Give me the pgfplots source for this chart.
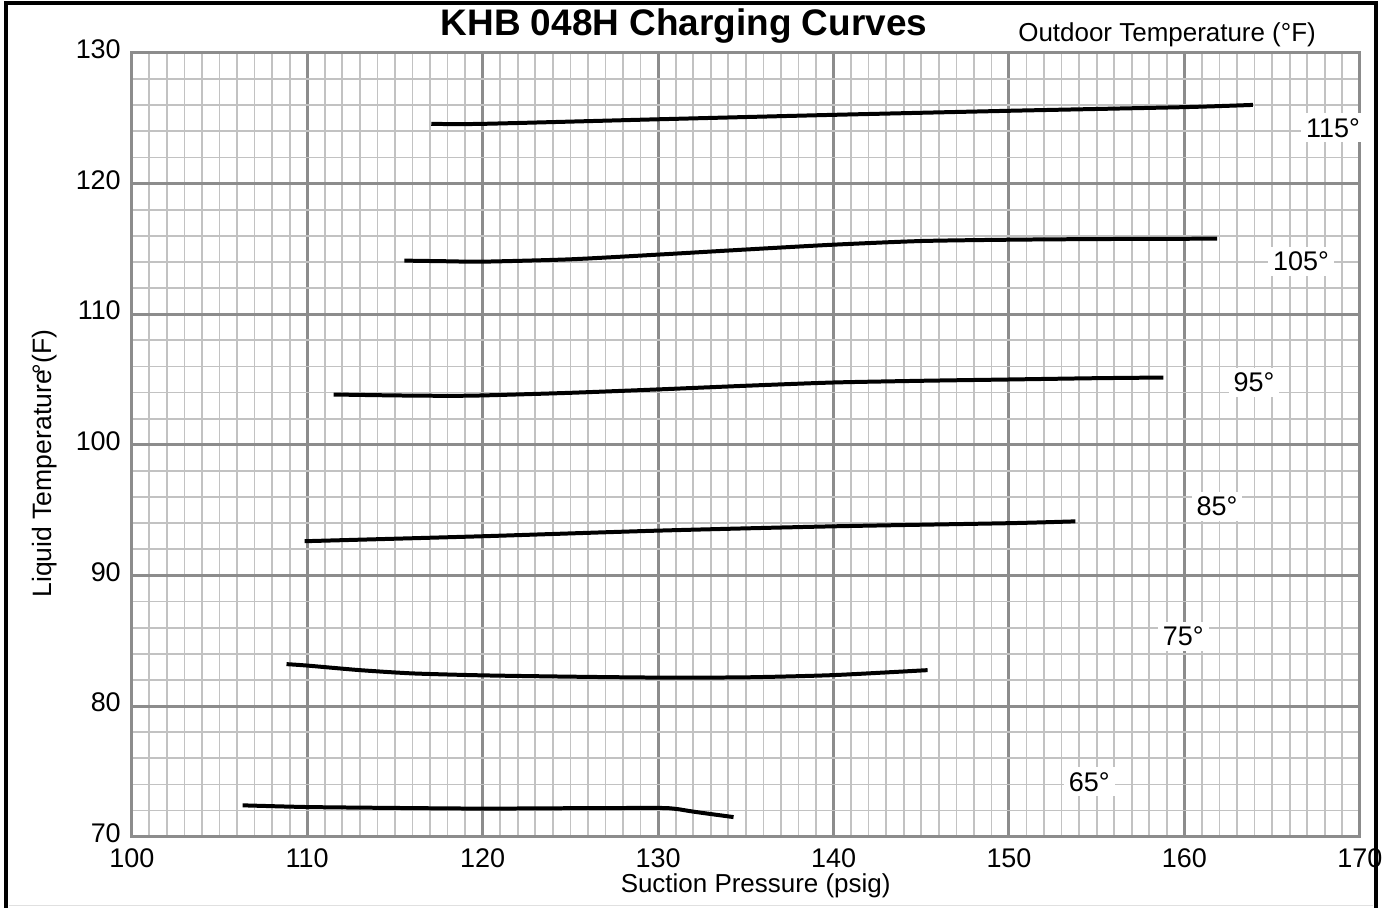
\documentclass[border=0pt]{standalone}
\usepackage{fontspec}
\setmainfont{Liberation Sans}
\usepackage{pgfplots}
\pgfplotsset{compat=1.18}
\definecolor{majgrid}{gray}{0.55}
\definecolor{mingrid}{gray}{0.76}
\begin{document}
\begin{tikzpicture}
\begin{axis}[
  width=615pt, height=392.5pt, scale only axis,
  xmin=100, xmax=170, ymin=70, ymax=130,
  xtick={100,110,...,170}, ytick={70,80,...,130},
  minor x tick num=9, minor y tick num=4,
  grid=both,
  major grid style={line width=1.5pt, color=majgrid},
  minor grid style={line width=0.85pt, color=mingrid},
  axis line style={line width=1.5pt, color=majgrid},
  tick style={draw=none},
  /pgf/number format/assume math mode=true,
  ticklabel style={font=\fontsize{13.5}{15}\selectfont, text=black},
  xticklabel style={yshift=-2.5pt},
  yticklabel style={xshift=-2pt, yshift=1.75pt},
  clip=false,
]
% frame and bounding box
\path (rel axis cs:-0.10732,-0.09045) rectangle (rel axis cs:1.02195,1.06752);
\draw[line width=1.8pt] (rel axis cs:-0.1024,-0.0905) -- (rel axis cs:-0.1024,1.0637) -- (rel axis cs:1.0130,1.0637) -- (rel axis cs:1.0130,-0.0905);
\draw[line width=0.8pt, color=black!12] (rel axis cs:-0.1000,-0.0879) -- (rel axis cs:1.0110,-0.0879);

% curves
\addplot[black, line width=2pt, smooth, tension=0.4] coordinates {
 (117.07,124.57) (120,124.57) (130,124.92) (140,125.26) (150,125.57) (160,125.85) (163.9,126.02)};
\addplot[black, line width=2pt, smooth, tension=0.4] coordinates {
 (115.54,114.10) (118,114.05) (120,114.02) (125,114.2) (130,114.56) (135,114.95) (140,115.32) (145,115.6) (150,115.70) (155,115.75) (161.87,115.78)};
\addplot[black, line width=2pt, smooth, tension=0.4] coordinates {
 (111.5,103.85) (115,103.78) (118,103.75) (120,103.78) (125,103.98) (130,104.24) (135,104.52) (140,104.77) (145,104.9) (150,105.0) (155,105.1) (158.8,105.15)};
\addplot[black, line width=2pt, smooth, tension=0.4] coordinates {
 (109.85,92.62) (120,93.0) (130,93.43) (140,93.76) (150,94.0) (153.78,94.14)};
\addplot[black, line width=2pt, smooth, tension=0.4] coordinates {
 (108.82,83.21) (110,83.1) (113,82.75) (116,82.5) (120,82.35) (125,82.25) (130,82.18) (135,82.2) (140,82.37) (145.36,82.75)};
\addplot[black, line width=2pt, smooth, tension=0.4] coordinates {
 (106.32,72.40) (110,72.27) (115,72.2) (120,72.15) (125,72.18) (130,72.2) (131,72.13) (132.1,71.9) (134.3,71.5)};

% outdoor temperature labels
\begin{scope}[every node/.style={fill=white, inner sep=2.5pt, font=\fontsize{13.5}{15}\selectfont}]
\node at (168.47,124.27) {115°};
\node at (166.64,114.03) {105°};
\node at (163.97,104.78) {95°};
\node at (161.86,95.30) {85°};
\node at (159.93,85.36) {75°};
\node at (154.58,74.20) {65°};
\end{scope}

% titles
\node[font=\fontsize{18.5}{22}\selectfont\bfseries] at (rel axis cs:0.4496,1.0345) {KHB 048H Charging Curves};
\node[font=\fontsize{13}{15}\selectfont] at (rel axis cs:0.843,1.0235) {Outdoor Temperature (°F)};
\node[font=\fontsize{13}{15}\selectfont] at (rel axis cs:0.508,-0.0621) {Suction Pressure (psig)};
\node[font=\fontsize{13.3}{15}\selectfont, rotate=90] at (rel axis cs:-0.0707,0.476) {Liquid Temperature\kern-0.15em°(F)};
\end{axis}
\end{tikzpicture}
\end{document}
